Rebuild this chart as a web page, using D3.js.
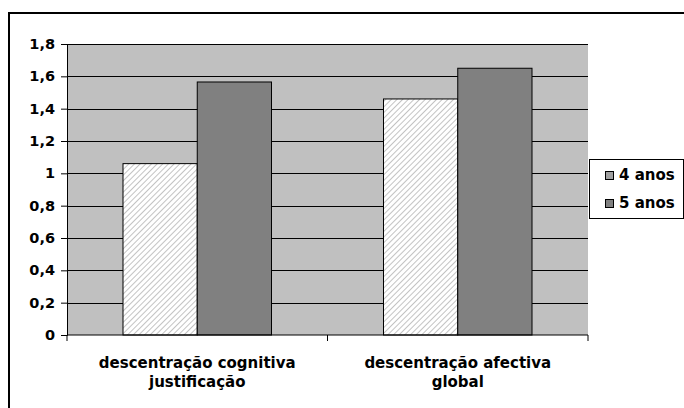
<!DOCTYPE html>
<html><head><meta charset="utf-8">
<script src="https://cdn.jsdelivr.net/npm/d3@7"></script>
<style>body{margin:0;background:#fff}svg{display:block}</style>
</head><body>
<script>
var categories = ['descentração cognitiva|justificação', 'descentração afectiva|global'];
var series = ['4 anos', '5 anos'];
var v4 = [1.06, 1.46];
var v5 = [1.565, 1.65];
var yTicks = [0, 0.2, 0.4, 0.6, 0.8, 1, 1.2, 1.4, 1.6, 1.8];

var width = 684, height = 408,
	margin = {left:67, top:44, right:96, bottom:73},
	g_width = width - margin.left - margin.right,
	g_height = height - margin.top - margin.bottom;

var FONT = '"DejaVu Sans", Verdana, sans-serif';

var svg = d3.select('body').append('svg').attr('width', width).attr('height', height);

// hachura
var defs = svg.append('defs');
var pat = defs.append('pattern').attr('id','hatch').attr('patternUnits','userSpaceOnUse')
	.attr('width',4).attr('height',4).attr('patternTransform','rotate(45)');
pat.append('rect').attr('width',4).attr('height',4).attr('fill','#fff');
pat.append('line').attr('x1',0).attr('y1',0).attr('x2',0).attr('y2',4).attr('stroke','#b4b4b4').attr('stroke-width',1.6);

svg.append('rect').attr('x',9).attr('y',13).attr('width',720).attr('height',420)
	.attr('fill','#fff').attr('stroke','#000').attr('stroke-width',2);

var g = svg.append('g').attr('transform','translate('+margin.left+','+margin.top+')');

var scale_x = d3.scaleBand().domain(categories).range([0,g_width]).paddingInner(0).paddingOuter(0);
var scale_s = d3.scaleBand().domain(series).range([56, scale_x.bandwidth()-56]);
var scale_y = d3.scaleLinear().domain([0,1.8]).range([g_height,0]);

g.append('rect').attr('width',g_width).attr('height',g_height).attr('fill','#c0c0c0');

g.selectAll('.grid').data(yTicks.slice(1)).enter().append('line')
	.attr('x1',0).attr('x2',g_width)
	.attr('y1',function(d){return Math.round(scale_y(d))+0.5;})
	.attr('y2',function(d){return Math.round(scale_y(d))+0.5;})
	.attr('stroke','#000');

var fills = ['url(#hatch)', '#808080'];
var vals = [v4, v5];
series.forEach(function(s,si){
	g.selectAll('.b'+si).data(categories).enter().append('rect')
		.attr('x',function(d){return scale_x(d)+scale_s(s);})
		.attr('y',function(d,i){return scale_y(vals[si][i]);})
		.attr('width',scale_s.bandwidth())
		.attr('height',function(d,i){return g_height-scale_y(vals[si][i]);})
		.attr('fill',fills[si]).attr('stroke','#000').attr('stroke-width',1);
});

// eixos
var y_axis = d3.axisLeft(scale_y).tickValues(yTicks).tickSize(6).tickPadding(6)
	.tickFormat(function(d){return String(d).replace('.',',');});
var ya = g.append('g').call(y_axis);
ya.attr('font-family',null).attr('font-size',null);
ya.selectAll('text').attr('font-family',FONT).attr('font-weight','bold').attr('font-size','14.5px').attr('fill','#000');
ya.selectAll('.domain,line').attr('stroke','#000');

var xa = g.append('g').attr('transform','translate(0,'+g_height+')');
xa.append('line').attr('x1',0).attr('x2',g_width).attr('stroke','#000');
var xt = [0].concat(categories.map(function(d){return scale_x(d)+scale_x.bandwidth();}));
xa.selectAll('.xt').data(xt).enter().append('line')
	.attr('x1',function(d){return d;}).attr('x2',function(d){return d;})
	.attr('y1',0).attr('y2',6).attr('stroke','#000');

var lab = xa.selectAll('.lab').data(categories).enter().append('text')
	.attr('text-anchor','middle').attr('font-family',FONT).attr('font-weight','bold').attr('font-size','15px')
	.attr('x',function(d){return scale_x(d)+scale_x.bandwidth()/2;});
lab.each(function(d){
	var t = d3.select(this);
	d.split('|').forEach(function(p,i){
		t.append('tspan').attr('x',t.attr('x')).attr('y',i===0?33:52).text(p);
	});
});

// legenda
var lg = svg.append('g').attr('transform','translate(589,159)');
lg.append('rect').attr('x',0.5).attr('y',0.5).attr('width',94).attr('height',59).attr('fill','#fff').attr('stroke','#000');
var lfill = ['#a0a0a0', '#808080'];
series.forEach(function(s,i){
	lg.append('rect').attr('x',16.5).attr('y',12.5+i*28).attr('width',8).attr('height',8)
		.attr('fill',lfill[i]).attr('stroke','#000');
	lg.append('text').attr('x',30).attr('y',21+i*28).attr('font-family',FONT).attr('font-weight','bold')
		.attr('font-size','15px').text(s);
});
</script>
</body></html>
